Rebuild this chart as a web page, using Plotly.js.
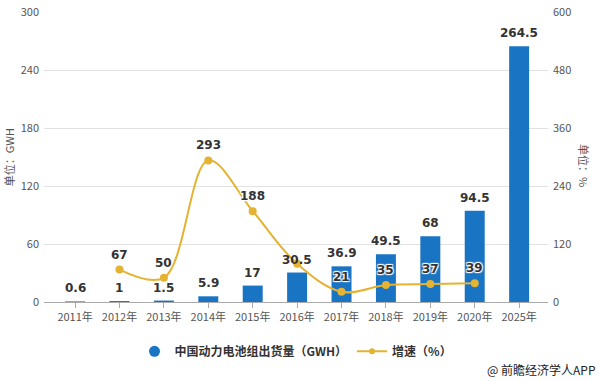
<!DOCTYPE html>
<html>
<head>
<meta charset="utf-8">
<script src="https://cdn.plot.ly/plotly-3.0.1.min.js"></script>
<style>html,body{margin:0;padding:0;background:#fff;}#chart{width:600px;height:381px;}</style>
</head>
<body>
<div id="chart"></div>
<script>
const categories = ["2011年","2012年","2013年","2014年","2015年","2016年","2017年","2018年","2019年","2020年","2025年"];
const shipments = [0.6, 1, 1.5, 5.9, 17, 30.5, 36.9, 49.5, 68, 94.5, 264.5];
const growth = [null, 67, 50, 293, 188, 79, 21, 35, 37, 39, null];
const growthLabels = ["", "67", "50", "293", "188", "", "21", "35", "37", "39", ""];
const leftTicks = [0, 60, 120, 180, 240, 300];
const rightTicks = [0, 120, 240, 360, 480, 600];

const BLUE = "#1a74c4";
const GOLD = "#e5b332";
const FONT = "'Noto Sans CJK SC', 'DejaVu Sans', sans-serif";

const traces = [
  {type: "bar", x: categories, y: shipments, marker: {color: BLUE}, width: 0.45, showlegend: false, hoverinfo: "skip"},
  {type: "scatter", mode: "lines+markers", x: categories, y: growth, yaxis: "y2",
   line: {color: GOLD, width: 2, shape: "spline", smoothing: 1}, marker: {color: GOLD, size: 8},
   showlegend: false, connectgaps: false},
  {type: "scatter", mode: "markers", x: [null], y: [null], marker: {color: BLUE, size: 11, symbol: "circle"},
   name: "中国动力电池组出货量（GWH）"},
  {type: "scatter", mode: "lines+markers", x: [null], y: [null], yaxis: "y2",
   line: {color: GOLD, width: 2}, marker: {color: GOLD, size: 6}, name: "增速（%）"}
];

const annotations = [];
categories.forEach((c, i) => {
  annotations.push({x: c, y: shipments[i], xref: "x", yref: "y", text: String(shipments[i]),
    showarrow: false, yshift: 13, font: {family: "'DejaVu Sans', sans-serif", size: 12, color: "#333", weight: "bold"}});
});
categories.forEach((c, i) => {
  if (growth[i] !== null && growthLabels[i] !== "") {
    annotations.push({x: c, y: growth[i], xref: "x", yref: "y2", text: growthLabels[i],
      showarrow: false, yshift: 15,
      font: {family: "'DejaVu Sans', sans-serif", size: 12, color: "#333", weight: "bold",
             shadow: "1px 1px 1px #fff, -1px -1px 1px #fff, 1px -1px 1px #fff, -1px 1px 1px #fff"}});
  }
});
annotations.push({xref: "paper", yref: "paper", x: -0.069, y: 0.5, xanchor: "center", yanchor: "middle",
  text: "单位：GWH", textangle: -90, showarrow: false, font: {family: FONT, size: 11, color: "#555"}});
annotations.push({xref: "paper", yref: "paper", x: 1.073, y: 0.47, xanchor: "center", yanchor: "middle",
  text: "单位：%", textangle: 90, showarrow: false, font: {family: FONT, size: 11, color: "#555"}});
annotations.push({xref: "paper", yref: "paper", x: 1.1, y: -0.232, xanchor: "right", yanchor: "middle",
  text: "@ 前瞻经济学人APP", showarrow: false, font: {family: FONT, size: 12, color: "#222"}});

const layout = {
  width: 600, height: 381,
  margin: {l: 44, r: 52, t: 12, b: 79},
  paper_bgcolor: "#fff", plot_bgcolor: "#fff",
  font: {family: FONT, color: "#555"},
  xaxis: {type: "category", range: [-0.7, 10.65], showgrid: false, showline: true, linecolor: "#aaa",
    ticks: "outside", ticklen: 5, tickcolor: "#aaa", tickfont: {size: 11, color: "#555"}, fixedrange: true},
  yaxis: {range: [0, 300], tickvals: leftTicks, showgrid: true, gridcolor: "#e2e2e2", zeroline: false,
    showline: false, tickfont: {size: 11, color: "#555"}, ticklabelstandoff: 4},
  yaxis2: {range: [0, 600], tickvals: rightTicks, overlaying: "y", side: "right", showgrid: false,
    zeroline: false, showline: false, tickfont: {size: 11, color: "#555"}, ticklabelstandoff: 4},
  legend: {orientation: "h", x: 0.5, xanchor: "center", y: -0.17, yanchor: "middle",
    font: {size: 12, color: "#333", weight: "bold"}, itemwidth: 30},
  annotations: annotations,
  showlegend: true
};

Plotly.newPlot("chart", traces, layout, {displayModeBar: false, staticPlot: true});
</script>
</body>
</html>
